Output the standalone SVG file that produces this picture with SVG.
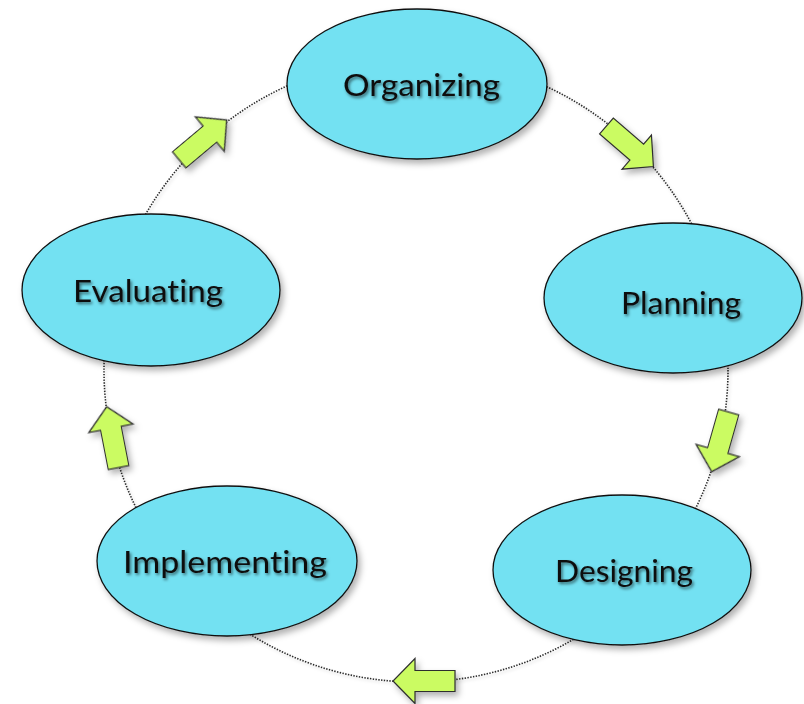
<svg xmlns="http://www.w3.org/2000/svg" width="804" height="704" viewBox="0 0 804 704">
  <defs>
    <filter id="softShadow" x="-20%" y="-20%" width="150%" height="150%">
      <feDropShadow dx="3" dy="4" stdDeviation="3" flood-color="#000" flood-opacity="0.3"/>
    </filter>
    <filter id="lineShadow" x="-10%" y="-10%" width="120%" height="120%">
      <feDropShadow dx="1.5" dy="2" stdDeviation="1.5" flood-color="#000" flood-opacity="0.18"/>
    </filter>
    <filter id="textShadow" x="-10%" y="-30%" width="130%" height="170%">
      <feDropShadow dx="1.5" dy="2" stdDeviation="1.4" flood-color="#000" flood-opacity="0.55"/>
    </filter>
    <!-- block arrow pointing along +x, tip at the origin -->
    <path id="blockArrow" d="M0,0 L-22,-22.5 L-22,-10.5 L-62,-10.5 L-62,10.5 L-22,10.5 L-22,22.5 Z"/>
  </defs>
  <style>
    .ring { fill: none; stroke: #2a2a2a; stroke-width: 1.6; stroke-dasharray: 1.4 1.4; }
    .node { fill: #73e1f2; stroke: #111; stroke-width: 1.3; }
    .label { font-family: Lato, "Open Sans", "Liberation Sans", sans-serif; font-size: 30px; fill: #111; text-anchor: middle; font-variant-ligatures: none; font-feature-settings: "liga" 0; }
    .arrow { fill: #cbfb62; stroke: #2e2e2e; stroke-width: 1.2; stroke-linejoin: miter; }
  </style>

  <rect width="804" height="704" fill="#fff"/>

  <!-- cycle ring and direction arrows -->
  <g id="connectors">
    <circle class="ring" cx="416" cy="370" r="312" filter="url(#lineShadow)"/>
    <g filter="url(#softShadow)">
      <use href="#blockArrow" class="arrow" transform="translate(653.4,166.5) rotate(40.8)"/>
      <use href="#blockArrow" class="arrow" transform="translate(711.7,471.7) rotate(105.9)"/>
      <use href="#blockArrow" class="arrow" transform="translate(393,681) rotate(180)"/>
      <use href="#blockArrow" class="arrow" transform="translate(106.7,406.7) rotate(259)"/>
      <use href="#blockArrow" class="arrow" transform="translate(226.7,120) rotate(-40)"/>
    </g>
  </g>

  <g id="organizing">
    <ellipse class="node" cx="417" cy="84" rx="130" ry="75" filter="url(#softShadow)"/>
    <text class="label" x="421.5" y="96" textLength="157" lengthAdjust="spacingAndGlyphs" filter="url(#textShadow)">Organizing</text>
  </g>

  <g id="planning">
    <ellipse class="node" cx="673" cy="298" rx="129" ry="75" filter="url(#softShadow)"/>
    <text class="label" x="681" y="314" textLength="120" lengthAdjust="spacingAndGlyphs" filter="url(#textShadow)">Planning</text>
  </g>

  <g id="designing">
    <ellipse class="node" cx="622" cy="570" rx="129" ry="75" filter="url(#softShadow)"/>
    <text class="label" x="624" y="582" textLength="138" lengthAdjust="spacingAndGlyphs" filter="url(#textShadow)">Designing</text>
  </g>

  <g id="implementing">
    <ellipse class="node" cx="227" cy="561" rx="130" ry="75" filter="url(#softShadow)"/>
    <text class="label" x="225" y="573" textLength="204" lengthAdjust="spacingAndGlyphs" filter="url(#textShadow)">Implementing</text>
  </g>

  <g id="evaluating">
    <ellipse class="node" cx="151" cy="290" rx="129" ry="76" filter="url(#softShadow)"/>
    <text class="label" x="148" y="302" textLength="150" lengthAdjust="spacingAndGlyphs" filter="url(#textShadow)">Evaluating</text>
  </g>
</svg>
